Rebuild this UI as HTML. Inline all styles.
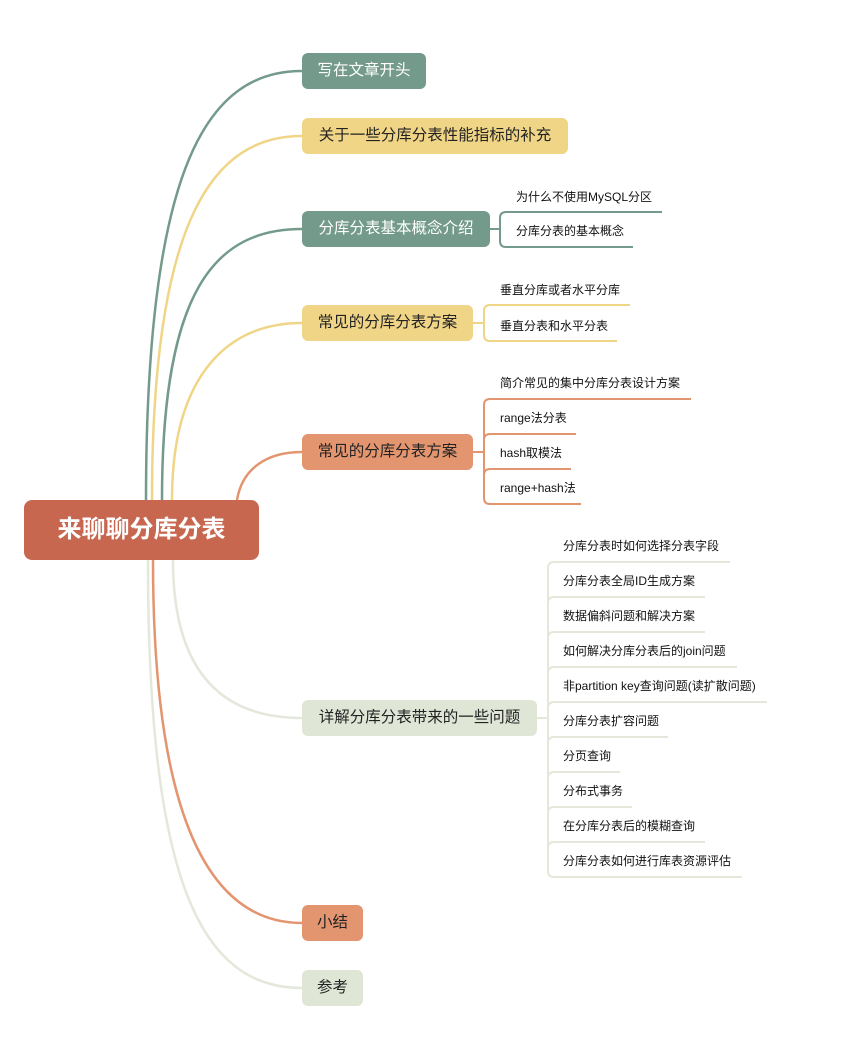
<!DOCTYPE html>
<html><head><meta charset="utf-8"><style>
html,body{margin:0;padding:0;background:#fff;}
body{width:843px;height:1043px;position:relative;overflow:hidden;font-family:"Liberation Sans","Noto Sans CJK SC",sans-serif;}
.n{position:absolute;border-radius:6px;font-size:15.5px;line-height:36px;text-align:center;color:#222;white-space:nowrap;}
.t{position:absolute;font-size:12px;color:#111;white-space:nowrap;line-height:14px;}
</style></head><body>
<svg width="843" height="1043" style="position:absolute;left:0;top:0" fill="none" stroke-width="2.5">
<path d="M146,500 C146,160 210,71 302,71" stroke="#739a8a"/>
<path d="M152,500 C152,215 215,136 302,136" stroke="#f0d587"/>
<path d="M162,500 C162,290 215,229 302,229" stroke="#739a8a"/>
<path d="M172,500 C172,385 220,323 302,323" stroke="#f0d587"/>
<path d="M237,500 C242,470 265,452 302,452" stroke="#e3956f"/>
<path d="M173,560 C173,670 220,718 302,718" stroke="#e3e8da"/>
<path d="M153,560 C153,820 210,923 302,923" stroke="#e3956f"/>
<path d="M148,560 C148,880 200,988 302,988" stroke="#e3e8da"/>
<g stroke-width="2">
<g stroke="#739a8a"><path d="M490,229 H500"/><path d="M662,212 H506 Q500,212 500,218 V241 Q500,247 506,247 H633"/></g>
<g stroke="#f0d587"><path d="M473,323 H484"/><path d="M630,305 H490 Q484,305 484,311 V335 Q484,341 490,341 H617"/></g>
<g stroke="#e3956f"><path d="M473,452 H484"/><path d="M691,399 H490 Q484,399 484,405 V498 Q484,504 490,504 H581"/><path d="M576,434 H490 Q484,434 484,440"/><path d="M571,469 H490 Q484,469 484,475"/></g>
<g stroke="#e3e8da"><path d="M537,718 H548"/><path d="M730,562 H554 Q548,562 548,568 V871 Q548,877 554,877 H742"/>
<path d="M705,597 H554 Q548,597 548,603"/><path d="M705,632 H554 Q548,632 548,638"/><path d="M737,667 H554 Q548,667 548,673"/><path d="M767,702 H554 Q548,702 548,708"/><path d="M668,737 H554 Q548,737 548,743"/><path d="M620,772 H554 Q548,772 548,778"/><path d="M632,807 H554 Q548,807 548,813"/><path d="M705,842 H554 Q548,842 548,848"/></g>
</g>
</svg>
<div class="n" style="left:24px;top:500px;width:235px;height:60px;line-height:60px;background:#c8674f;color:#fff;font-size:24px;font-weight:bold;border-radius:8px">来聊聊分库分表</div>
<div class="n" style="left:302px;top:53px;width:124px;background:#739a8a;color:#fff">写在文章开头</div>
<div class="n" style="left:302px;top:118px;width:266px;background:#f0d587">关于一些分库分表性能指标的补充</div>
<div class="n" style="left:302px;top:211px;width:188px;background:#739a8a;color:#fff">分库分表基本概念介绍</div>
<div class="n" style="left:302px;top:305px;width:171px;background:#f0d587">常见的分库分表方案</div>
<div class="n" style="left:302px;top:434px;width:171px;background:#e3956f">常见的分库分表方案</div>
<div class="n" style="left:302px;top:700px;width:235px;background:#dfe6d6">详解分库分表带来的一些问题</div>
<div class="n" style="left:302px;top:905px;width:61px;background:#e3956f">小结</div>
<div class="n" style="left:302px;top:970px;width:61px;background:#dfe6d6">参考</div>
<div class="t" style="left:516px;top:190px">为什么不使用MySQL分区</div>
<div class="t" style="left:516px;top:224px">分库分表的基本概念</div>
<div class="t" style="left:500px;top:283px">垂直分库或者水平分库</div>
<div class="t" style="left:500px;top:319px">垂直分表和水平分表</div>
<div class="t" style="left:500px;top:376px">简介常见的集中分库分表设计方案</div>
<div class="t" style="left:500px;top:411px">range法分表</div>
<div class="t" style="left:500px;top:446px">hash取模法</div>
<div class="t" style="left:500px;top:481px">range+hash法</div>
<div class="t" style="left:563px;top:539px">分库分表时如何选择分表字段</div>
<div class="t" style="left:563px;top:574px">分库分表全局ID生成方案</div>
<div class="t" style="left:563px;top:609px">数据偏斜问题和解决方案</div>
<div class="t" style="left:563px;top:644px">如何解决分库分表后的join问题</div>
<div class="t" style="left:563px;top:679px">非partition key查询问题(读扩散问题)</div>
<div class="t" style="left:563px;top:714px">分库分表扩容问题</div>
<div class="t" style="left:563px;top:749px">分页查询</div>
<div class="t" style="left:563px;top:784px">分布式事务</div>
<div class="t" style="left:563px;top:819px">在分库分表后的模糊查询</div>
<div class="t" style="left:563px;top:854px">分库分表如何进行库表资源评估</div>
</body></html>
